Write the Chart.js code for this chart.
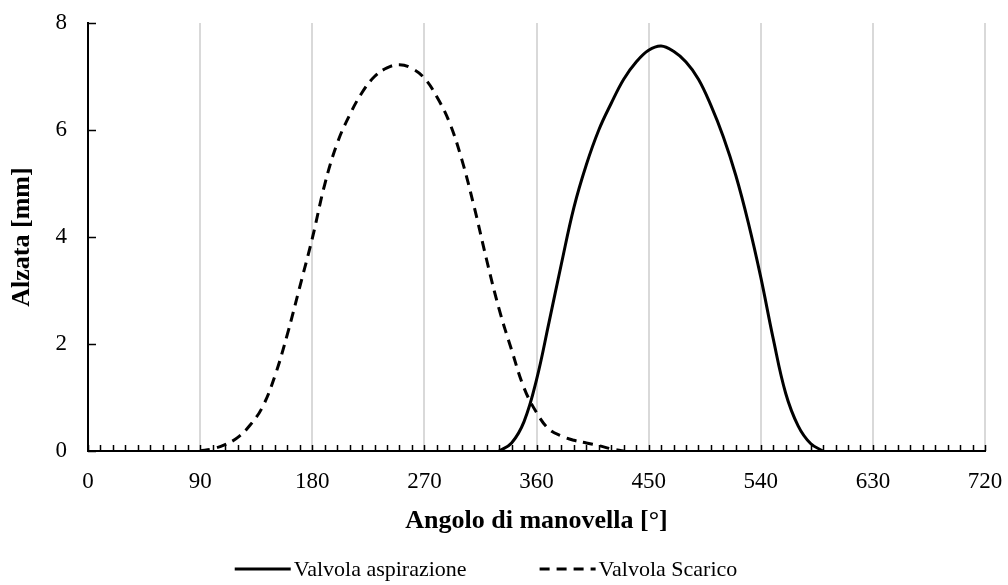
<!DOCTYPE html>
<html>
<head>
<meta charset="utf-8">
<script src="https://cdn.jsdelivr.net/npm/chart.js@4/dist/chart.umd.min.js"></script>
<style>
html,body{margin:0;padding:0;background:#fff;}
#wrap{width:1008px;height:585px;position:relative;}
</style>
</head>
<body>
<div id="wrap"><canvas id="c" width="1008" height="585"></canvas></div>
<script>
// Valvola Scarico (dashed)
const scaricoAngles = [90,100,110,120,130,140,150,160,170,180,190,200,210,220,230,240,250,260,270,280,290,300,310,320,330,340,350,360,370,380,390,400,410,420,430];
const scaricoLift   = [0,0.04,0.12,0.25,0.48,0.82,1.4,2.18,3.07,3.97,4.98,5.75,6.28,6.7,7.0,7.16,7.22,7.15,6.97,6.62,6.15,5.45,4.56,3.57,2.65,1.89,1.18,0.72,0.41,0.28,0.2,0.15,0.1,0.04,0];
// Valvola aspirazione (solid)
const aspAngles = [330,340,350,360,370,380,390,400,410,420,430,440,450,460,470,480,490,500,510,520,530,540,550,560,570,580,590];
const aspLift   = [0,0.15,0.55,1.33,2.4,3.5,4.55,5.35,6.0,6.5,6.95,7.27,7.49,7.57,7.47,7.27,6.95,6.46,5.87,5.15,4.27,3.25,2.1,1.08,0.47,0.14,0];
const xTickStep = 90;
const xMinorStep = 10;
const yTickStep = 2;
const seriesNames = ['Valvola aspirazione','Valvola Scarico'];
const xTitle = 'Angolo di manovella [°]';
const yTitle = 'Alzata [mm]';

const FONT = "'Liberation Serif','Times New Roman',serif";

function pts(xs, ys){ return xs.map((x,i)=>({x:x,y:ys[i]})); }

const innerTicks = {
  id:'innerTicks',
  afterDraw(chart){
    const ctx = chart.ctx, xs = chart.scales.x, ys = chart.scales.y;
    const a = chart.chartArea;
    ctx.save();
    ctx.strokeStyle = '#000';
    ctx.lineWidth = 1.5;
    ctx.beginPath();
    for(let v = xs.min; v <= xs.max; v += xMinorStep){
      const px = Math.round(xs.getPixelForValue(v)) + 0.5;
      ctx.moveTo(px, a.bottom);
      ctx.lineTo(px, a.bottom - 6);
    }
    for(let v = ys.min; v <= ys.max; v += yTickStep){
      const py = Math.round(ys.getPixelForValue(v)) + 0.5;
      ctx.moveTo(a.left, py);
      ctx.lineTo(a.left + 8, py);
    }
    ctx.stroke();
    ctx.restore();
  }
};

// legend drawn from the datasets' own labels and styles
const lineLegend = {
  id:'lineLegend',
  afterDraw(chart, args, opts){
    const ctx = chart.ctx;
    const ds = chart.data.datasets;
    ctx.save();
    ctx.font = opts.fontSize + 'px ' + FONT;
    const sample = opts.sampleWidth, gapText = opts.textGap, gapItem = opts.itemGap;
    const widths = ds.map(d => sample + gapText + ctx.measureText(d.label).width);
    const total = widths.reduce((s,w)=>s+w,0) + gapItem*(ds.length-1);
    let x = (chart.width - total)/2 + opts.offsetX;
    const y = opts.y;
    ds.forEach((d,i)=>{
      ctx.beginPath();
      ctx.strokeStyle = d.borderColor;
      ctx.lineWidth = d.borderWidth;
      ctx.setLineDash(d.borderDash || []);
      ctx.moveTo(x, y); ctx.lineTo(x + sample, y);
      ctx.stroke();
      ctx.setLineDash([]);
      ctx.fillStyle = '#000';
      ctx.textBaseline = 'middle';
      ctx.textAlign = 'left';
      ctx.fillText(d.label, x + sample + gapText, y + 1);
      x += widths[i] + gapItem;
    });
    ctx.restore();
  }
};

new Chart(document.getElementById('c'), {
  type:'line',
  data:{
    datasets:[
      {label:seriesNames[0], data:pts(aspAngles, aspLift), borderColor:'#000', backgroundColor:'#000', borderWidth:3, pointRadius:0, tension:0.4, fill:false},
      {label:seriesNames[1], data:pts(scaricoAngles, scaricoLift), borderColor:'#000', backgroundColor:'#000', borderWidth:3, borderDash:[10,7], pointRadius:0, tension:0.4, fill:false}
    ]
  },
  options:{
    responsive:false,
    animation:false,
    layout:{padding:{left:0,right:23,top:23,bottom:46}},
    plugins:{
      legend:{display:false},
      tooltip:{enabled:false},
      lineLegend:{fontSize:22, sampleWidth:56, textGap:3, itemGap:73, y:569, offsetX:-18}
    },
    scales:{
      x:{
        type:'linear', min:0, max:720,
        ticks:{
          stepSize:xMinorStep, autoSkip:false, maxRotation:0,
          callback:(v)=> (v % xTickStep === 0 ? String(v) : ''),
          font:{family:FONT,size:23}, color:'#000', padding:17
        },
        grid:{
          drawTicks:false,
          color:(c)=> (c.tick && c.tick.value % xTickStep === 0 && c.tick.value > 0 ? '#d9d9d9' : 'rgba(0,0,0,0)'),
          lineWidth:2
        },
        border:{display:true,color:'#000',width:2},
        title:{display:true,text:xTitle,font:{family:FONT,size:26,weight:'bold'},color:'#000',padding:{top:4,bottom:2}},
        afterFit:(s)=>{ s.height = 88; s.paddingLeft = 0; s.paddingRight = 0; }
      },
      y:{
        min:0, max:8,
        ticks:{stepSize:yTickStep, font:{family:FONT,size:23}, color:'#000', padding:21},
        grid:{drawTicks:false, color:'rgba(0,0,0,0)'},
        border:{display:true,color:'#000',width:2},
        title:{display:true,text:yTitle,font:{family:FONT,size:26,weight:'bold'},color:'#000',padding:{top:7,bottom:0}},
        afterFit:(s)=>{ s.width = 88; s.paddingTop = 0; s.paddingBottom = 0; }
      }
    }
  },
  plugins:[innerTicks, lineLegend]
});
</script>
</body>
</html>
